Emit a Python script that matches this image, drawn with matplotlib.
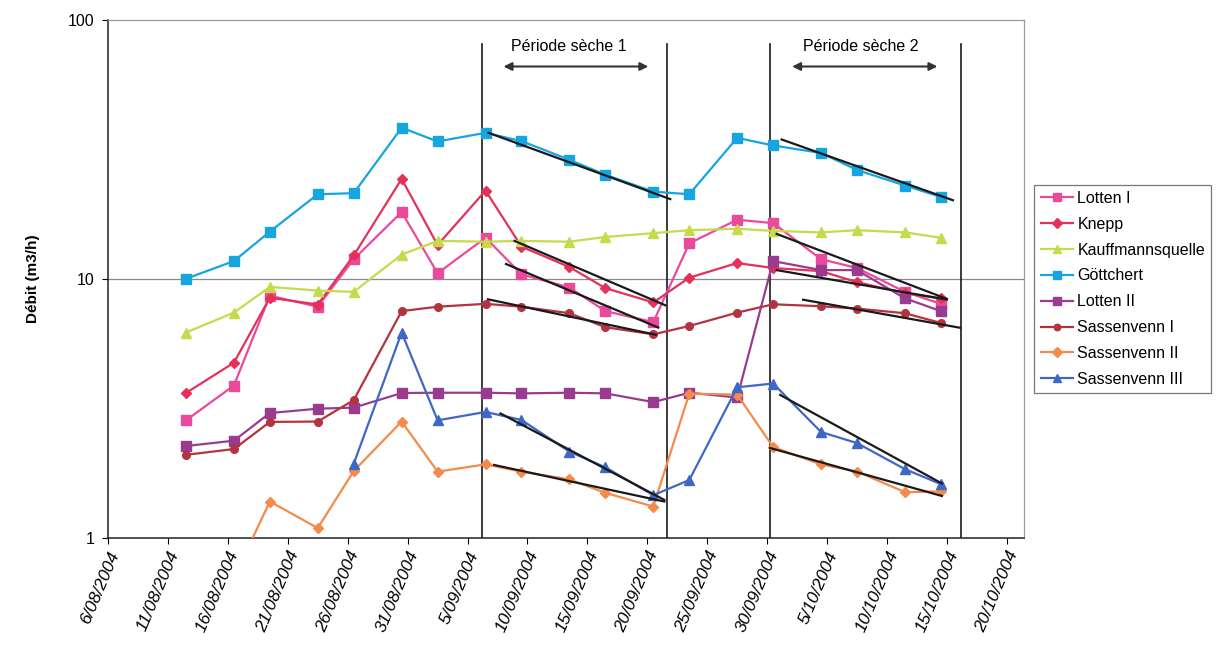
import matplotlib

matplotlib.use("Agg")
import matplotlib.dates as mdates
import matplotlib.pyplot as plt
import pandas as pd
from matplotlib.ticker import FixedLocator, FuncFormatter, NullLocator

plt.rcParams["font.family"] = ["Liberation Sans", "DejaVu Sans"]

# Jours de mesure (deux relevés par semaine)
dates = [
    "12/08/2004", "16/08/2004", "19/08/2004", "23/08/2004", "26/08/2004",
    "30/08/2004", "2/09/2004", "6/09/2004", "9/09/2004", "13/09/2004",
    "16/09/2004", "20/09/2004", "23/09/2004", "27/09/2004", "30/09/2004",
    "4/10/2004", "7/10/2004", "11/10/2004", "14/10/2004",
]

nan = float("nan")
lotten_1 = [2.84, 3.87, 8.6, 7.8, 11.9, 18.1, 10.5, 14.4, 10.4, 9.25,
            7.5, 6.8, 13.7, 16.9, 16.4, 11.9, 11.0, 8.9, 8.0]
knepp = [3.62, 4.74, 8.45, 7.95, 12.3, 24.3, 13.5, 21.9, 13.3, 11.1,
         9.2, 8.1, 10.1, 11.5, 11.0, 10.7, 9.7, 8.8, 8.4]
kauffmannsquelle = [6.2, 7.4, 9.3, 9.0, 8.9, 12.4, 14.0, 13.9, 14.0, 13.9,
                    14.5, 15.0, 15.4, 15.6, 15.3, 15.1, 15.4, 15.1, 14.4]
gottchert = [10.0, 11.7, 15.2, 21.2, 21.4, 38.3, 33.9, 36.6, 34.0, 28.8,
             25.2, 21.7, 21.2, 35.0, 32.7, 30.6, 26.3, 22.9, 20.7]
lotten_2 = [2.26, 2.37, 3.03, 3.15, 3.18, 3.62, 3.63, 3.63, 3.61, 3.63,
            3.61, 3.34, 3.63, 3.48, 11.7, 10.8, 10.8, 8.4, 7.5]
sassenvenn_1 = [2.09, 2.2, 2.8, 2.81, 3.4, 7.5, 7.8, 8.0, 7.8, 7.36,
                6.5, 6.1, 6.57, 7.4, 7.97, 7.83, 7.67, 7.36, 6.75]
sassenvenn_2 = [nan, 0.7, 1.38, 1.09, 1.81, 2.81, 1.8, 1.92, 1.8, 1.68,
                1.49, 1.32, 3.6, 3.57, 2.24, 1.92, 1.8, 1.5, 1.51]
sassenvenn_3 = [nan, nan, nan, nan, 1.93, 6.2, 2.84, 3.06, 2.85, 2.15,
                1.87, 1.46, 1.67, 3.81, 3.94, 2.56, 2.32, 1.84, 1.61]

series_names = ["Lotten I", "Knepp", "Kauffmannsquelle", "Göttchert",
                "Lotten II", "Sassenvenn I", "Sassenvenn II", "Sassenvenn III"]
series_values = [lotten_1, knepp, kauffmannsquelle, gottchert,
                 lotten_2, sassenvenn_1, sassenvenn_2, sassenvenn_3]
series_colors = ["#ea4a9c", "#e4315a", "#c6da4c", "#17a5df",
                 "#993c90", "#b3343f", "#f48a4c", "#3f68c6"]
series_markers = ["s", "D", "^", "s", "s", "o", "D", "^"]

# Droites de tarissement tracées sur chaque période sèche
trend_starts = ["2004-09-06 18:00", "2004-09-08 22:00", "2004-09-08 05:00",
                "2004-09-06 17:00", "2004-09-07 18:00", "2004-09-07 05:00",
                "2004-10-01 05:00", "2004-09-30 19:00", "2004-09-30 19:00",
                "2004-10-03 00:00", "2004-10-01 02:00", "2004-09-30 06:00"]
trend_ends = ["2004-09-21 22:00", "2004-09-21 12:00", "2004-09-20 22:00",
              "2004-09-20 17:00", "2004-09-21 10:00", "2004-09-21 10:00",
              "2004-10-15 12:00", "2004-10-15 00:00", "2004-10-15 00:00",
              "2004-10-16 02:00", "2004-10-14 14:00", "2004-10-14 14:00"]
trend_start_values = [36.6, 14.0, 11.4, 8.33, 3.02, 1.91,
                      34.5, 14.9, 10.8, 8.3, 3.56, 2.22]
trend_end_values = [20.3, 7.9, 6.48, 6.08, 1.40, 1.38,
                    20.1, 8.36, 8.31, 6.47, 1.62, 1.45]

period_bounds = ["2004-09-06 04:00", "2004-09-21 16:00",
                 "2004-09-30 06:00", "2004-10-16 05:00"]
period_labels = ["Période sèche 1", "Période sèche 2"]
period_label_dates = ["2004-09-13 10:00", "2004-10-07 20:00"]
arrow_starts = ["2004-09-08 00:00", "2004-10-02 02:00"]
arrow_ends = ["2004-09-20 02:00", "2004-10-14 05:00"]

x_ticks = pd.date_range("2004-08-06", "2004-10-20", freq="5D")

# Les points sont centrés sur la journée (axe de dates)
x = pd.to_datetime(dates, dayfirst=True) + pd.Timedelta(hours=12)

fig = plt.figure(figsize=(12.21, 6.59), dpi=100)
ax = fig.add_axes([0.0885, 0.184, 0.750, 0.786])

for name, values, color, marker in zip(series_names, series_values,
                                       series_colors, series_markers):
    size = 6.5 if marker in ("s", "^") else 5.5
    ax.plot(x, values, color=color, marker=marker, markersize=size,
            linewidth=1.6, label=name, zorder=3)

for t0, t1, v0, v1 in zip(trend_starts, trend_ends, trend_start_values, trend_end_values):
    ax.plot([pd.Timestamp(t0), pd.Timestamp(t1)], [v0, v1],
            color="#1a1a1a", linewidth=1.6, zorder=4)

for bound in period_bounds:
    ax.axvline(pd.Timestamp(bound), ymin=0, ymax=0.953, color="#1a1a1a",
               linewidth=1.2, zorder=2)

for label, at, a0, a1 in zip(period_labels, period_label_dates, arrow_starts, arrow_ends):
    ax.text(pd.Timestamp(at), 79, label, ha="center", va="center", fontsize=11.5)
    ax.annotate("", xy=(pd.Timestamp(a1), 66), xytext=(pd.Timestamp(a0), 66),
                arrowprops=dict(arrowstyle="<|-|>", color="#333333", lw=1.5,
                                mutation_scale=12, shrinkA=0, shrinkB=0))

ax.set_yscale("log")
ax.set_ylim(1, 100)
ax.yaxis.set_major_locator(FixedLocator([1, 10, 100]))
ax.yaxis.set_minor_locator(NullLocator())
ax.yaxis.set_major_formatter(FuncFormatter(lambda v, _: f"{v:g}"))
ax.axhline(10, color="#8a8a8a", linewidth=0.9, zorder=1)

ax.set_xlim(pd.Timestamp("2004-08-06"), pd.Timestamp("2004-10-21 10:00"))
ax.xaxis.set_major_locator(FixedLocator(mdates.date2num(x_ticks)))
ax.xaxis.set_major_formatter(
    FuncFormatter(lambda v, _: (lambda d: f"{d.day}/{d:%m/%Y}")(mdates.num2date(v))))

for lab in ax.get_xticklabels():
    lab.set_rotation(67)
    lab.set_ha("right")
    lab.set_va("top")
    lab.set_rotation_mode("anchor")
    lab.set_fontsize(12.5)
    lab.set_fontstyle("italic")
ax.tick_params(axis="x", direction="out", length=4, pad=4)
ax.tick_params(axis="y", direction="out", length=4, labelsize=11.5, pad=6)

ax.set_ylabel("Débit (m3/h)", fontsize=11, fontweight="bold", labelpad=20)

for side in ("left", "bottom"):
    ax.spines[side].set_color("#222222")
    ax.spines[side].set_linewidth(1.1)
for side in ("top", "right"):
    ax.spines[side].set_color("#9a9a9a")
    ax.spines[side].set_linewidth(0.9)

leg = fig.legend(loc="upper left", bbox_to_anchor=(0.847, 0.72), borderaxespad=0,
                 fontsize=11.5, frameon=True, fancybox=False, edgecolor="#555555",
                 handlelength=2.0, handletextpad=0.3, labelspacing=0.68,
                 borderpad=0.4, markerscale=0.85)
leg.get_frame().set_linewidth(0.9)

fig.savefig("out.png", dpi=100, facecolor="white")
